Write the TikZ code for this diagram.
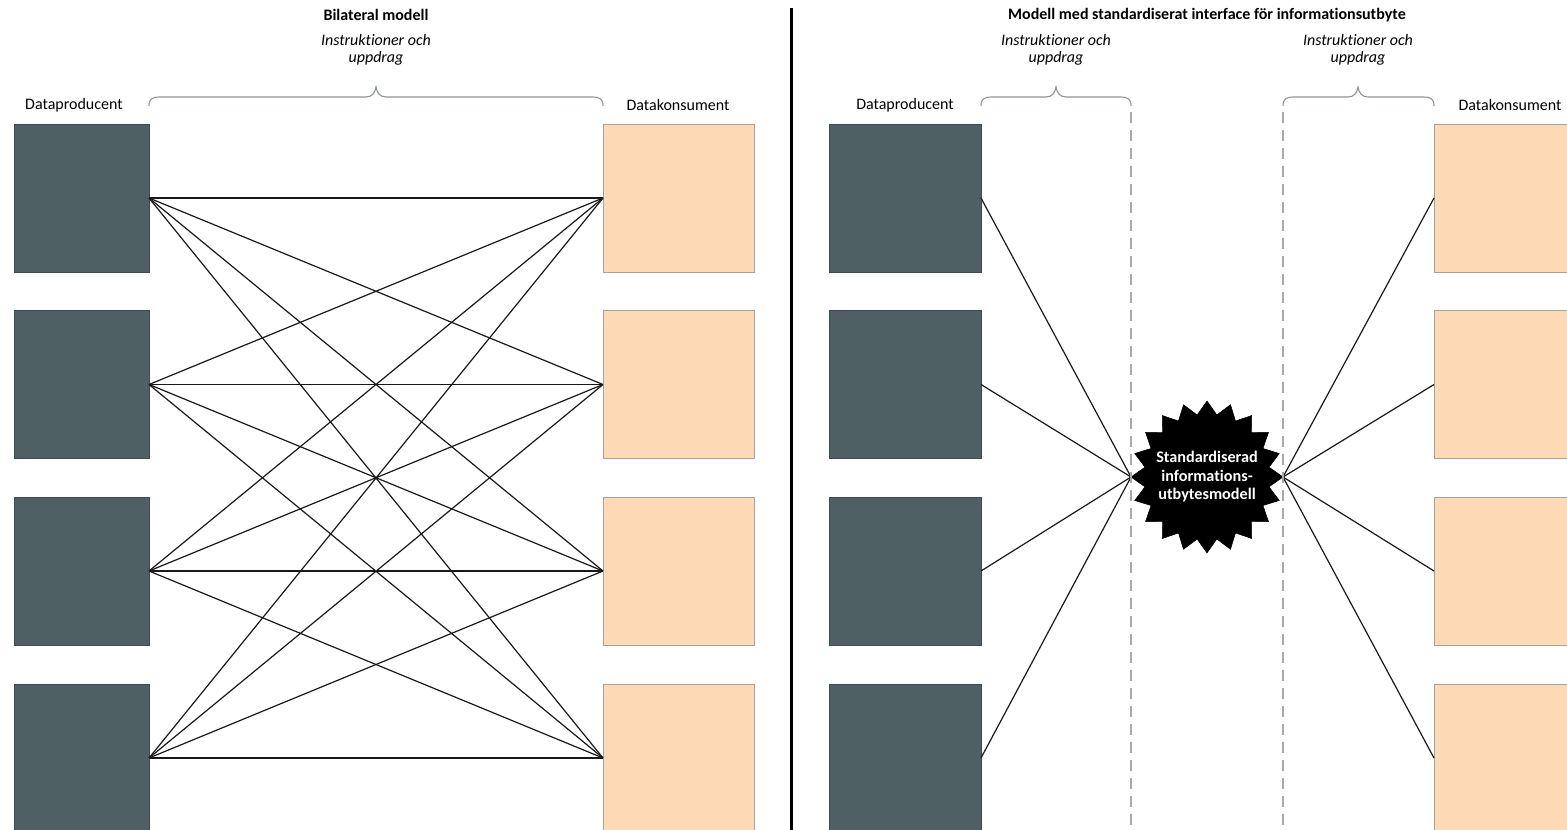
\documentclass[tikz,border=0pt]{standalone}
\usepackage{fontspec}
\setmainfont{Carlito}[Ligatures=NoCommon]
\usetikzlibrary{shapes.geometric}
\definecolor{prod}{HTML}{4F6064}
\definecolor{prodb}{HTML}{3E4C50}
\definecolor{kons}{HTML}{FDD9B5}
\definecolor{konsb}{HTML}{A8A29C}
\definecolor{brc}{HTML}{8C9496}
\definecolor{dsh}{HTML}{A3ABAD}
\tikzset{
  every node/.style={font=\fontsize{16}{19}\selectfont},
  prodbox/.style={draw=prodb, fill=prod, line width=0.8pt, minimum height=148pt, inner sep=0pt, outer sep=0pt},
  konsbox/.style={draw=konsb, fill=kons, line width=0.8pt, minimum height=148pt, inner sep=0pt, outer sep=0pt},
  link/.style={draw=black!90, line width=1.2pt},
  brace/.style={draw=brc, line width=1.1pt},
  sep/.style={draw=dsh, line width=1.4pt, dash pattern=on 11pt off 7pt},
  lbl/.style={anchor=center, inner sep=0pt},
  ital/.style={lbl, font=\fontsize{16}{19}\selectfont\itshape},
  ttl/.style={lbl, font=\fontsize{16}{19}\selectfont\bfseries}
}
\begin{document}
\begin{tikzpicture}[x=1pt,y=-1pt]
\clip (0,0) rectangle (1567,830);
\fill[white] (0,0) rectangle (1567,830);
% ---------- left: bilateral
\foreach \i/\y in {1/198,2/384.5,3/571,4/758}{
  \node[prodbox, minimum width=135pt] (lp\i) at (81.5,\y) {};
  \node[konsbox, minimum width=151pt] (lc\i) at (678.5,\y) {};
}
\foreach \i in {1,...,4}{
  \foreach \j in {1,...,4}{
    \draw[link] (lp\i.east) -- (lc\j.west);
  }
}
\node[ttl] (t1) at (376,15) {Bilateral modell};
\node[ital] (i1a) at (376,40) {Instruktioner och};
\node[ital] (i1b) at (376,58) {uppdrag};
\node[lbl] (l1) at (74,105) {Dataproducent};
\node[lbl] (l2) at (678,105) {Datakonsument};
\coordinate (b1s) at (149,106);
\coordinate (b1e) at (603,106);
\draw[brace] (b1s) .. controls (149,99) and (152,97) .. (160,97) -- (366,97)
  .. controls (372,97) and (375,93) .. (376,87)
  .. controls (377,93) and (380,97) .. (386,97) -- (592,97)
  .. controls (600,97) and (603,99) .. (b1e);
% ---------- divider
\coordinate (d1) at (791,8);
\coordinate (d2) at (791,830);
\draw[line width=3pt, black] (d1) -- (d2);
% ---------- right: standardised
\foreach \i/\y in {1/198,2/384.5,3/571,4/758}{
  \node[prodbox, minimum width=152pt] (rp\i) at (905,\y) {};
  \node[konsbox, minimum width=152pt] (rc\i) at (1510,\y) {};
}
\node[star, star points=20, star point ratio=1.21, minimum size=152pt, inner sep=0pt, outer sep=0pt,
      fill=black, draw=black, line width=0.5pt] (st) at (1207,477) {};
\node[text=white, align=center, inner sep=0pt,
      font=\fontsize{16.2}{18.5}\selectfont\bfseries] (stt) at (st.center)
  {Standardiserad\\informations-\\utbytesmodell};
\foreach \i in {1,...,4}{
  \draw[link] (rp\i.east) -- (st.outer point 6);
  \draw[link] (st.outer point 16) -- (rc\i.west);
}
\coordinate (s1t) at (1131,112);
\coordinate (s1b) at (1131,830);
\coordinate (s2t) at (1283,112);
\coordinate (s2b) at (1283,830);
\draw[sep] (s1t) -- (s1b);
\draw[sep] (s2t) -- (s2b);
\node[ttl] (t2) at (1207,15) {Modell med standardiserat interface för informationsutbyte};
\node[ital] (i2a) at (1056,40) {Instruktioner och};
\node[ital] (i2b) at (1056,58) {uppdrag};
\node[ital] (i3a) at (1358,40) {Instruktioner och};
\node[ital] (i3b) at (1358,58) {uppdrag};
\node[lbl] (l3) at (905,105) {Dataproducent};
\node[lbl] (l4) at (1510,105) {Datakonsument};
\coordinate (b2s) at (981,106);
\coordinate (b2e) at (1131,106);
\draw[brace] (b2s) .. controls (981,99) and (984,97) .. (992,97) -- (1046,97)
  .. controls (1052,97) and (1055,93) .. (1056,87)
  .. controls (1057,93) and (1060,97) .. (1066,97) -- (1120,97)
  .. controls (1128,97) and (1131,99) .. (b2e);
\coordinate (b3s) at (1283,106);
\coordinate (b3e) at (1434,106);
\draw[brace] (b3s) .. controls (1283,99) and (1286,97) .. (1294,97) -- (1348,97)
  .. controls (1354,97) and (1357,93) .. (1358,87)
  .. controls (1359,93) and (1362,97) .. (1368,97) -- (1423,97)
  .. controls (1431,97) and (1434,99) .. (b3e);
\end{tikzpicture}
\end{document}
